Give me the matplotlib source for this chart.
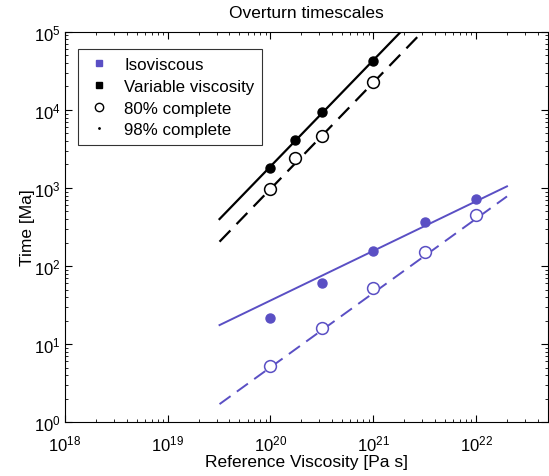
import matplotlib
matplotlib.use("Agg")
import matplotlib.pyplot as plt
from matplotlib.lines import Line2D
import numpy as np

plt.rcParams['font.family'] = ['Liberation Sans', 'DejaVu Sans']

# Data
visc_var = [1e20, 1.75e20, 3.16e20, 1e21]
var_80 = [970, 2400, 4600, 23000]
var_98 = [1800, 4170, 9500, 43000]

visc_iso = [1e20, 3.16e20, 1e21, 3.16e21, 1e22]
iso_80 = [5.3, 16.1, 51.6, 153, 450]
iso_98 = [21.5, 60, 158, 363, 720]

# fit lines (endpoints)
iso_fit_x = [3.2e19, 2.0e22]
iso98_fit_y = [17.5, 1050]
iso80_fit_y = [1.7, 780]
var98_fit_x = [3.2e19, 1.85e21]
var98_fit_y = [400, 1e5]
var80_fit_x = [3.2e19, 3.0e21]
var80_fit_y = [205, 1e5]

purple = '#5a4fc4'

fig = plt.figure(figsize=(5.49, 4.77), dpi=100)
ax = fig.add_axes([0.118, 0.113, 0.88, 0.818])
ax.set_xscale('log')
ax.set_yscale('log')

ax.plot(var98_fit_x, var98_fit_y, color='black', lw=1.6)
ax.plot(var80_fit_x, var80_fit_y, color='black', lw=1.6, dashes=(7, 4))
ax.plot(iso_fit_x, iso98_fit_y, color=purple, lw=1.4)
ax.plot(iso_fit_x, iso80_fit_y, color=purple, lw=1.4, dashes=(7, 4))

ax.plot(visc_var, var_98, 'o', color='black', ms=6.5)
ax.plot(visc_var, var_80, 'o', mfc='white', mec='black', ms=8.5, mew=1.1)
ax.plot(visc_iso, iso_98, 'o', color=purple, ms=6.5)
ax.plot(visc_iso, iso_80, 'o', mfc='white', mec=purple, ms=8.5, mew=1.1)

ax.set_xlim(1e18, 5e22)
ax.set_ylim(1, 1e5)
ax.set_xticks([1e18, 1e19, 1e20, 1e21, 1e22])
ax.set_yticks([1, 10, 1e2, 1e3, 1e4, 1e5])
ax.tick_params(which='both', direction='in', top=True, right=True, labelsize=12)
ax.tick_params(which='major', length=5)
ax.tick_params(which='minor', length=2.5)
ax.tick_params(axis='x', which='both', pad=8)
ax.tick_params(axis='y', which='both', pad=3)

ax.set_xlabel('Reference Viscosity [Pa s]', fontsize=12.5, labelpad=1)
ax.set_ylabel('Time [Ma]', fontsize=12.5, labelpad=-1)
ax.set_title('Overturn timescales', fontsize=12.5, pad=11)

handles = [
    Line2D([], [], ls='none', marker='s', color=purple, ms=4.5),
    Line2D([], [], ls='none', marker='s', color='black', ms=5),
    Line2D([], [], ls='none', marker='o', mfc='white', mec='black', ms=6),
    Line2D([], [], ls='none', marker='.', color='black', ms=2),
]
labels = ['Isoviscous', 'Variable viscosity', '80% complete', '98% complete']
leg = ax.legend(handles, labels, loc='upper left', bbox_to_anchor=(0.027, 0.955),
                fontsize=12.2, frameon=True, fancybox=False, edgecolor='black',
                handlelength=1.6, handletextpad=0.7, labelspacing=0.4,
                borderpad=0.45, borderaxespad=0)
leg.get_frame().set_linewidth(0.8)

fig.savefig('out.png', dpi=100)
